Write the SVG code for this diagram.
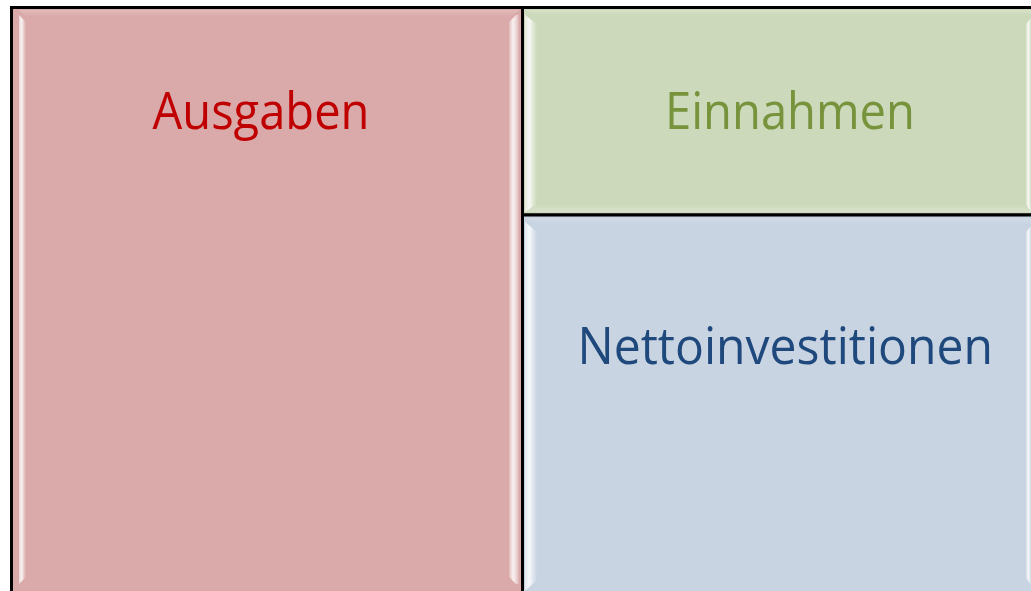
<svg xmlns="http://www.w3.org/2000/svg" width="1031" height="591" viewBox="0 0 1031 591">
  <defs>
    <linearGradient id="lg" x1="0" y1="0" x2="1" y2="0">
      <stop offset="0" stop-color="#ffffff" stop-opacity="0.5"/>
      <stop offset="0.35" stop-color="#ffffff" stop-opacity="0.85"/>
      <stop offset="1" stop-color="#ffffff" stop-opacity="0"/>
    </linearGradient>
    <linearGradient id="rg" x1="0" y1="0" x2="1" y2="0">
      <stop offset="0" stop-color="#ffffff" stop-opacity="0.2"/>
      <stop offset="0.4" stop-color="#ffffff" stop-opacity="0.85"/>
      <stop offset="0.75" stop-color="#ffffff" stop-opacity="0.5"/>
      <stop offset="1" stop-color="#ffffff" stop-opacity="0.1"/>
    </linearGradient>
    <linearGradient id="tg" x1="0" y1="0" x2="0" y2="1">
      <stop offset="0" stop-color="#ffffff" stop-opacity="0.2"/>
      <stop offset="1" stop-color="#ffffff" stop-opacity="0"/>
    </linearGradient>
    <linearGradient id="bg" x1="0" y1="0" x2="0" y2="1">
      <stop offset="0" stop-color="#ffffff" stop-opacity="0"/>
      <stop offset="1" stop-color="#ffffff" stop-opacity="0.25"/>
    </linearGradient>
  </defs>
  <style>
    .box { stroke: #000000; stroke-width: 3; }
    .lbl { font-family: "Open Sans", "Liberation Sans", sans-serif; font-size: 52px; text-anchor: start; }
  </style>
  <rect x="0" y="0" width="1031" height="591" fill="#ffffff"/>

  <g id="ausgaben">
    <rect class="box" x="11.5" y="7.5" width="511" height="586" fill="#DAA9A9"/>
    <polygon points="19,15 26,22 26,577 19,584" fill="url(#lg)"/>
    <polygon points="509,22 516,15 519,15 519,584 516,584 509,577" fill="url(#rg)"/>
    <polygon points="19,10 519,10 512,17 26,17" fill="url(#tg)"/>
    <text class="lbl" x="152.5" y="129" fill="#C00000" textLength="217" lengthAdjust="spacingAndGlyphs">Ausgaben</text>
  </g>

  <g id="einnahmen">
    <rect class="box" x="522.5" y="7.5" width="511" height="207.5" fill="#CCD9BA"/>
    <polygon points="525,15 537,24 537,204 525,212" fill="url(#lg)"/>
    <polygon points="1026,24 1031,18 1031,212 1026,204" fill="url(#rg)"/>
    <polygon points="525,10 1031,10 1031,16 537,16" fill="url(#tg)"/>
    <polygon points="537,204 1031,204 1031,212 525,212" fill="url(#bg)"/>
    <text class="lbl" x="665" y="129" fill="#77933C" textLength="250" lengthAdjust="spacingAndGlyphs">Einnahmen</text>
  </g>

  <g id="nettoinvestitionen">
    <rect class="box" x="522.5" y="215" width="511" height="378" fill="#C8D4E2"/>
    <polygon points="525,222 537,232 537,580 525,591" fill="url(#lg)"/>
    <polygon points="1026,232 1031,226 1031,585 1026,578" fill="url(#rg)"/>
    <polygon points="525,218 1031,218 1031,224 537,224" fill="url(#tg)"/>
    <text class="lbl" x="577.5" y="364" fill="#1F497D" textLength="415.5" lengthAdjust="spacingAndGlyphs">Nettoinvestitionen</text>
  </g>
</svg>
